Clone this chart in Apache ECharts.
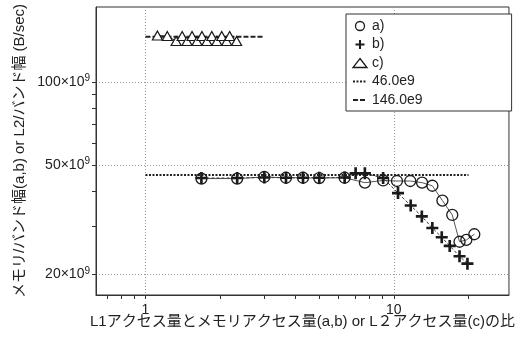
<!DOCTYPE html>
<html><head><meta charset="utf-8">
<script src="https://cdn.jsdelivr.net/npm/echarts@6/dist/echarts.min.js"></script>
<style>html,body{margin:0;padding:0;background:#fff}#c{width:518px;height:344px}</style>
</head><body><div id="c"></div>
<script>
// ---- data (x: access ratio, y: bandwidth in units of 1e9 B/sec) ----
const aX = [1.68, 2.34, 3.01, 3.68, 4.31, 5.01, 6.34, 7.65, 9.06, 10.3, 11.65, 13.0, 14.3, 15.7, 17.2, 18.4, 19.6, 21.1];
const aY = [44.6, 44.6, 45.2, 44.9, 44.9, 44.8, 44.9, 43.1, 43.9, 43.7, 43.7, 43.1, 42.0, 37.1, 32.9, 26.3, 26.7, 28.0];
const bX = [1.68, 2.34, 3.01, 3.68, 4.31, 5.01, 6.34, 7.02, 7.65, 9.06, 10.4, 11.7, 12.97, 14.3, 15.6, 16.8, 18.4, 19.8];
const bY = [44.8, 44.8, 45.0, 44.9, 44.9, 44.9, 45.0, 46.6, 46.6, 44.8, 39.5, 35.6, 32.5, 29.5, 27.3, 25.4, 23.3, 21.9];
const cX = [1.117, 1.224, 1.329, 1.405, 1.470, 1.540, 1.612, 1.688, 1.767, 1.850, 1.938, 2.028, 2.124, 2.183, 2.328];
const cY = [147.5, 146.9, 140.9, 146.9, 140.9, 146.9, 140.9, 146.9, 140.9, 146.9, 140.9, 146.9, 140.9, 146.9, 140.9];
const m46X = [1, 20];
const m46Y = [46.0, 46.0];
const m146X = [1, 3];
const m146Y = [146.0, 146.0];
const xLabelVals = [1, 10];
const xTickVals = [0.7, 0.8, 0.9, 1, 2, 3, 4, 5, 6, 7, 8, 9, 10, 20];
const yLabelVals = [20, 50, 100];
const yTickVals = [20, 30, 40, 50, 60, 70, 80, 90, 100];
const xRange = [0.632, 29.1];
const yRange = [16.85, 187.2];
const names = ['a)', 'b)', 'c)', '46.0e9', '146.0e9'];

const FONT = '"Liberation Sans", "Noto Sans CJK JP", sans-serif';
const L = v => Math.log10(v);
const pairs = (xs, ys) => xs.map((x, i) => [L(x), L(ys[i])]);
const CROSS = 'path://M3.9,0H6.1V3.9H10V6.1H6.1V10H3.9V6.1H0V3.9H3.9Z';
const INK = '#1a1a1a';

const chart = echarts.init(document.getElementById('c'), null, {renderer: 'canvas'});
const xMin = L(xRange[0]), xMax = L(xRange[1]);
const yMin = L(yRange[0]), yMax = L(yRange[1]);

chart.setOption({
  animation: false,
  backgroundColor: '#fff',
  grid: {left: 96, right: 5, top: 7, bottom: 49, show: true, borderColor: '#333', borderWidth: 1, backgroundColor: 'transparent'},
  xAxis: [{
    type: 'value', min: xMin, max: xMax, position: 'bottom',
    axisLine: {show: true, onZero: false, lineStyle: {color: '#333', width: 1}},
    axisTick: {show: true, length: 4, inside: false, customValues: xTickVals.map(L), lineStyle: {color: '#333', width: 1}},
    axisLabel: {customValues: xLabelVals.map(L), formatter: v => String(Math.round(Math.pow(10, v))), fontSize: 14, margin: 8, color: '#222', fontFamily: FONT},
    splitLine: {show: false},
    name: 'L1アクセス量とメモリアクセス量(a,b) or L２アクセス量(c)の比',
    nameLocation: 'middle', nameGap: 19, nameMoveOverlap: false,
    nameTextStyle: {fontSize: 15, color: '#222', fontFamily: FONT}
  }, {
    type: 'value', min: xMin, max: xMax, position: 'top',
    axisLine: {show: false, onZero: false}, axisLabel: {show: false},
    axisTick: {show: false, customValues: xLabelVals.map(L)},
    splitLine: {show: true, lineStyle: {color: '#999', width: 1, type: [1, 2]}}
  }],
  yAxis: [{
    type: 'value', min: yMin, max: yMax, position: 'left',
    axisLine: {show: true, onZero: false, lineStyle: {color: '#333', width: 1}},
    axisTick: {show: true, length: 4, inside: false, customValues: yTickVals.map(L), lineStyle: {color: '#333', width: 1}},
    axisLabel: {
      customValues: yLabelVals.map(L), margin: 6,
      formatter: v => '{m|' + Math.round(Math.pow(10, v)) + '×10}{s|9}',
      rich: {
        m: {fontSize: 14, lineHeight: 17, color: '#222', fontFamily: FONT},
        s: {fontSize: 10, lineHeight: 10, verticalAlign: 'top', color: '#222', fontFamily: FONT}
      }
    },
    splitLine: {show: false},
    name: 'メモリ/バンド幅(a,b) or L2/バンド幅 (B/sec)',
    nameLocation: 'middle', nameGap: 69, nameMoveOverlap: false,
    nameTextStyle: {fontSize: 15, color: '#222', fontFamily: FONT}
  }, {
    type: 'value', min: yMin, max: yMax, position: 'right',
    axisLine: {show: false, onZero: false}, axisLabel: {show: false},
    axisTick: {show: false, customValues: yLabelVals.map(L)},
    splitLine: {show: true, lineStyle: {color: '#999', width: 1, type: [1, 2]}}
  }],
  legend: {
    orient: 'vertical', left: 346, top: 14,
    padding: [4, 89, 3, 6], itemGap: 2.5, itemWidth: 14, itemHeight: 9,
    borderColor: '#333', borderWidth: 1, backgroundColor: '#fff',
    textStyle: {fontSize: 14, lineHeight: 16, color: '#222', fontFamily: FONT},
    selectedMode: false,
    data: [
      {name: names[0], icon: 'circle', itemStyle: {color: 'rgba(0,0,0,0)', borderColor: INK, borderWidth: 1.3}},
      {name: names[1], icon: CROSS, itemStyle: {color: INK, borderWidth: 0}},
      {name: names[2], icon: 'triangle', itemStyle: {color: 'rgba(0,0,0,0)', borderColor: INK, borderWidth: 1.3}},
      {name: names[3], itemStyle: {color: 'rgba(0,0,0,0)', borderWidth: 0}},
      {name: names[4], itemStyle: {color: 'rgba(0,0,0,0)', borderWidth: 0}}
    ]
  },
  series: [{
    name: names[3], type: 'line', data: pairs(m46X, m46Y), symbol: 'none',
    lineStyle: {color: '#222', width: 2, type: [2, 1.5]}, silent: true, z: 3
  }, {
    name: names[4], type: 'line', data: pairs(m146X, m146Y), symbol: 'none',
    lineStyle: {color: '#222', width: 2, type: [5, 2]}, silent: true, z: 3
  }, {
    name: names[0], type: 'line', data: pairs(aX, aY), symbol: 'circle', symbolSize: 11,
    itemStyle: {color: 'rgba(0,0,0,0)', borderColor: INK, borderWidth: 1.3},
    lineStyle: {color: '#555', width: 1}, silent: true, z: 4
  }, {
    name: names[1], type: 'line', data: pairs(bX, bY), symbol: CROSS, symbolSize: 12,
    itemStyle: {color: INK, borderWidth: 0},
    lineStyle: {color: '#333', width: 1, type: [3, 2]}, silent: true, z: 5
  }, {
    name: names[2], type: 'line', data: pairs(cX, cY), symbol: 'triangle', symbolSize: [10, 9],
    itemStyle: {color: '#fff', borderColor: INK, borderWidth: 1.2},
    lineStyle: {color: '#333', width: 1}, silent: true, z: 4
  }]
});
</script></body></html>
